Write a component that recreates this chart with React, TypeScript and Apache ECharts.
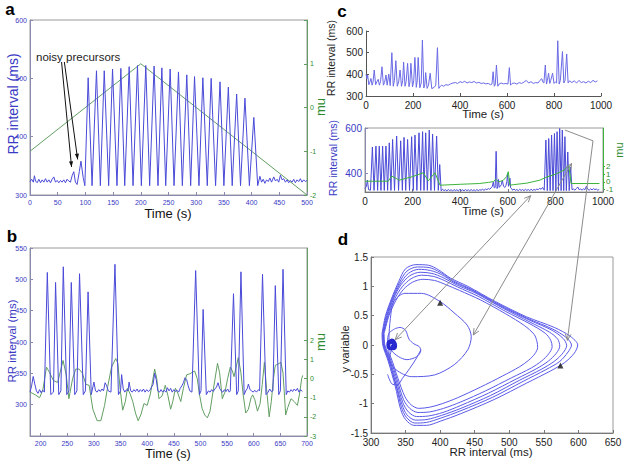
import React, { useEffect, useRef } from "react";
import * as echarts from "echarts";

const FONT = "Liberation Sans, Arial, sans-serif";
const BLUE = "#4a4ad8";
const BLUE_TXT = "#3a3ac4";
const GREEN = "#629e62";
const GREEN_C = "#3cb43c";
const GREEN_TXT = "#2e8a2e";
const GRAY = "#8c8c8c";

// ---------- Panel a ----------
const aRR: number[][] = [
  [0, 323], [3, 327], [6, 322], [8, 333], [10, 324], [13, 321], [16, 327], [19, 321], [22, 326], [25, 322],
  [28, 328], [31, 322], [34, 326], [37, 321], [40, 327], [43, 331], [46, 322], [49, 325], [52, 321], [55, 325],
  [58, 322], [61, 326], [64, 321], [67, 327], [70, 324], [73, 322], [76, 333], [79, 340], [82, 322], [85, 318],
  [89, 340], [92, 358], [96, 330], [99, 316],
  [105, 501], [112, 316], [120, 513], [127, 316], [134, 513], [142, 316], [149, 516], [157, 316], [164, 517],
  [171, 316], [179, 520], [186, 316], [194, 522], [201, 316], [209, 522], [216, 316], [224, 521], [231, 316],
  [238, 518], [245, 316], [253, 516], [260, 316], [268, 511], [275, 316], [283, 506], [290, 316], [297, 503],
  [305, 316], [312, 501], [320, 316], [327, 500], [335, 316], [343, 494], [350, 316], [358, 485], [365, 316],
  [373, 473], [380, 316], [388, 466], [396, 316], [404, 433], [411, 316],
  [415, 332], [418, 322], [421, 327], [424, 320], [427, 326], [430, 323], [433, 329], [436, 322], [440, 331],
  [443, 324], [446, 327], [449, 322], [452, 334], [455, 326], [458, 328], [461, 322], [464, 326], [467, 321],
  [470, 325], [473, 322], [476, 327], [479, 321], [482, 326], [485, 323], [488, 328], [491, 322], [494, 326],
  [497, 323], [500, 325],
];
const aMu: number[][] = [[0, -1], [200, 1], [500, -2]];

// ---------- Panel b ----------
const bRR: number[][] = [
  [180, 320], [183, 330], [186, 345], [189, 333], [192, 322], [195, 318], [198, 324], [201, 319], [204, 323],
  [207, 320], [212.5, 511], [219, 316], [224, 320], [228, 495], [234, 316], [238, 322], [242.5, 520], [249, 316],
  [253, 322], [257.5, 495], [264, 316], [268, 322], [273, 509], [280, 316], [284, 322], [289, 480], [295, 316],
  [300, 336], [303, 322], [306, 320], [309, 324], [312, 321], [315, 325], [318, 322], [321, 335], [324, 330],
  [327, 322], [332, 320], [339.5, 524], [346, 316], [350, 322], [352, 348], [355, 325], [358, 320], [361, 324],
  [364, 322], [366, 336], [369, 322], [372, 320], [375, 324], [378, 321], [381, 325], [384, 320], [387, 324],
  [390, 321], [393, 325], [396, 320], [399, 324], [402, 321], [405, 323], [408, 328], [411, 332], [414, 350],
  [417, 340], [420, 322], [423, 320], [426, 324], [429, 320], [432, 323], [435, 320], [438, 327], [441, 322],
  [444, 326], [447, 320], [450, 324], [453, 321], [456, 323], [459, 320], [462, 326], [465, 330], [468, 335],
  [471, 343], [474, 340], [477, 330], [480, 322], [484, 320], [491, 514], [498, 316], [501, 322], [505, 452],
  [511, 316], [515, 322], [518, 320], [521, 324], [524, 321], [527, 325], [530, 328], [533, 335], [536, 326],
  [539, 322], [542, 320], [545, 324], [548, 321], [551, 325], [554, 320], [556, 322], [562, 477], [568, 316],
  [571, 322], [576, 512], [582, 316], [585, 322], [588, 326], [590, 333], [593, 324], [596, 322], [599, 320],
  [602, 323], [605, 320], [609, 324], [611, 322], [616.5, 508], [623, 316], [627, 320], [630, 325], [633, 321],
  [636, 322], [640.5, 490], [647, 316], [650, 322], [655, 516], [661, 316], [664, 322], [667, 320], [670, 324],
  [673, 321], [676, 325], [679, 322], [682, 326], [685, 320], [688, 324], [691, 321],
];
const bMu: number[][] = [
  [180, -0.7], [190, -0.85], [198, -1.0], [204, -0.6], [211, 0.6], [217, 0.3], [224, -0.1], [232, -0.2],
  [242, 0.95], [248, 0.2], [253, -1.05], [260, 0.0], [266, 0.5], [272, 0.5], [278, 0.3], [285, -0.3],
  [291, -0.35], [298, -1.6], [306, -2.2], [313, -2.2], [320, -1.4], [326, -0.4], [333, 0.6], [341, 1.05],
  [345, 0.8], [349, -0.5], [354, -1.65], [359, -1.2], [363, -0.5], [368, -0.8], [373, -1.2], [378, -1.8],
  [383, -2.2], [388, -1.9], [394, -1.3], [400, -1.4], [406, -0.8], [414, 0.5], [418, 0.0], [422, -1.05],
  [428, -0.9], [434, -0.35], [439, -0.9], [444, -1.6], [448, -1.2], [453, -0.5], [458, -0.8], [463, -1.2],
  [468, -0.5], [474, 0.2], [480, 0.25], [489, 0.4], [494, 0.0], [498, -0.8], [503, -1.55], [508, -1.9],
  [513, -2.05], [518, -1.7], [524, -0.6], [532, 0.8], [536, 0.3], [541, -1.05], [546, -0.7], [551, 0.0],
  [556, 0.6], [560, 0.4], [563, 0.1], [567, 0.6], [571, 1.1], [576, 0.3], [580, -0.8], [585, -1.8],
  [590, -1.6], [595, -1.0], [598, -0.85], [602, -1.1], [607, -1.7], [612, -1.3], [616, -0.3], [620, 0.85],
  [624, -0.5], [629, -2.0], [633, -1.2], [637, 0.0], [640.5, 0.7], [645, 0.75], [651, 0.85], [655, 0.3],
  [660, -1.9], [664, -1.5], [670, -1.05], [676, -1.2], [682, -1.4], [686, -0.8], [690, 0.0], [692, 0.17],
];

// ---------- Panel c (top: data) ----------
const cTopRR: number[][] = [
  [0, 400], [4, 380], [7, 397], [12, 352], [16, 362], [21, 381], [26, 350], [30, 365], [35, 420], [41, 352],
  [46, 365], [52, 377], [57, 350], [62, 368], [68, 435], [74, 350], [79, 362], [85, 397], [90, 350], [97, 401],
  [103, 348], [110, 500], [116, 345], [121, 372], [127, 463], [133, 345], [139, 365], [145, 420], [151, 345],
  [156, 370], [160, 457], [166, 345], [171, 368], [177, 451], [183, 343], [187, 365], [191, 451], [198, 342],
  [203, 370], [208, 478], [214, 340], [218, 370], [222, 478], [229, 338], [235, 360], [240, 558], [246, 337],
  [250, 350], [254, 408], [260, 335], [266, 350], [273, 405], [280, 334], [290, 340], [297, 350], [304, 523],
  [310, 335], [316, 345], [322, 350], [330, 345], [340, 352], [350, 350], [360, 356], [370, 360], [380, 362],
  [390, 358], [400, 366], [410, 362], [420, 368], [430, 360], [440, 365], [450, 362], [460, 367], [470, 360],
  [480, 363], [490, 358], [500, 360], [510, 356], [520, 358], [530, 352], [536, 355], [541, 412], [546, 345],
  [550, 352], [555, 443], [561, 345], [566, 355], [575, 360], [585, 356], [595, 358], [604, 355], [610, 431],
  [615, 350], [622, 358], [632, 360], [642, 355], [652, 362], [662, 358], [672, 364], [682, 372], [692, 360],
  [702, 366], [712, 358], [722, 362], [732, 360], [740, 372], [748, 380], [752, 365], [757, 360], [763, 443],
  [768, 355], [772, 372], [777, 405], [782, 358], [786, 372], [794, 405], [800, 358], [806, 365], [811, 360],
  [816, 555], [822, 355], [827, 372], [836, 505], [842, 360], [847, 372], [854, 494], [860, 360], [866, 370],
  [876, 362], [886, 370], [896, 360], [906, 372], [916, 362], [926, 366], [936, 360], [946, 368], [956, 362],
  [966, 372], [976, 365], [985, 370],
];

// ---------- Panel c (bottom: model) ----------
const cBotRR: number[][] = [
  [0, 335], [6, 345], [10, 372], [15, 330], [23, 328], [31, 517], [38, 327], [46, 521], [53, 327], [60, 521],
  [67, 327], [74, 521], [81, 327], [88, 521], [95, 327], [102, 535], [109, 327], [116, 550], [124, 327],
  [133, 565], [141, 327], [150, 544], [157, 327], [164, 559], [171, 327], [179, 550], [187, 327], [196, 562],
  [203, 327], [210, 569], [218, 327], [227, 579], [234, 327], [242, 584], [248, 327], [255, 579], [262, 327],
  [270, 591], [277, 327], [284, 573], [292, 327], [301, 565], [308, 327], [314, 440], [320, 325], [326, 332],
  [332, 326], [338, 330], [344, 325], [350, 331], [356, 326], [362, 330], [368, 324], [374, 331], [380, 326],
  [386, 330], [392, 325], [398, 331], [404, 326], [410, 330], [416, 325], [422, 331], [428, 326], [434, 330],
  [440, 325], [446, 331], [452, 326], [458, 330], [464, 325], [470, 331], [476, 326], [482, 330], [488, 328],
  [494, 332], [500, 327], [506, 333], [512, 330], [518, 335], [524, 332], [530, 338], [535, 345], [539, 363],
  [543, 338], [547, 340], [551, 498], [555, 335], [558, 345], [561, 375], [564, 340], [568, 345], [573, 352],
  [577, 372], [582, 345], [587, 340], [592, 348], [596, 365], [599, 400], [603, 345], [606, 355], [609, 380],
  [612, 338], [616, 335], [620, 328], [626, 333], [632, 327], [638, 331], [644, 326], [650, 332], [656, 327],
  [662, 331], [668, 326], [674, 332], [680, 327], [686, 331], [692, 326], [698, 332], [704, 327], [710, 331],
  [716, 328], [722, 333], [728, 330], [734, 336], [740, 332], [746, 340], [753, 328], [760, 547], [766, 326],
  [772, 554], [778, 326], [784, 569], [790, 326], [796, 576], [802, 326], [807, 584], [813, 326], [818, 598],
  [824, 326], [829, 591], [835, 326], [840, 562], [846, 326], [852, 495], [858, 326], [864, 429], [870, 330],
  [876, 333], [882, 328], [888, 335], [894, 342], [900, 330], [906, 333], [912, 328], [918, 334], [924, 330],
  [930, 345], [936, 332], [942, 328], [948, 334], [954, 329], [960, 335], [966, 330], [972, 333], [978, 328],
  [984, 331],
];
const cBotMu: number[][] = [
  [0, 0.1], [98, 0.1], [112, 0.77], [144, 0.24], [200, 0.7], [245, 1.2], [266, 0.15], [294, 1.2], [315, -0.42],
  [400, -0.3], [480, -0.2], [520, -0.05], [539, 0.05], [551, 0.35], [561, 0.0], [580, 0.2], [595, 0.7],
  [602, 1.33], [609, -0.42], [623, -0.35], [680, -0.15], [735, 0.24], [760, 0.6], [800, 1.0], [840, 1.6],
  [856, 2.2], [866, -0.2], [985, -0.2],
];

// ---------- Panel d (phase plane) ----------
const dLoop1: number[][] = [
  [316, 0.2], [321, 0.5], [330, 0.8], [340, 1.08], [350, 1.3], [365, 1.37], [383, 1.36], [398, 1.28], [415, 1.14],
  [440, 1.0], [480, 0.74], [525, 0.48], [565, 0.3], [588, 0.15], [599, 0], [594, -0.14], [580, -0.3], [560, -0.44],
  [525, -0.65], [478, -0.93], [430, -1.17], [400, -1.3], [380, -1.37], [362, -1.37], [350, -1.27], [343, -1.1],
  [335, -0.7], [325, -0.28], [317, 0.0], [316, 0.2],
];
const dLoop2: number[][] = [
  [317, 0.2], [322, 0.5], [331, 0.8], [341, 1.06], [352, 1.26], [367, 1.33], [384, 1.32], [400, 1.24], [418, 1.1],
  [445, 0.95], [484, 0.7], [527, 0.45], [563, 0.27], [582, 0.13], [590, 0], [585, -0.12], [573, -0.28],
  [553, -0.42], [520, -0.62], [476, -0.89], [430, -1.12], [400, -1.25], [380, -1.32], [363, -1.33], [351, -1.23],
  [344, -1.06], [336, -0.68], [326, -0.27], [318, 0.0], [317, 0.2],
];
const dLoop3: number[][] = [
  [317, 0.2], [323, 0.5], [332, 0.8], [342, 1.04], [354, 1.22], [369, 1.29], [386, 1.27], [402, 1.2], [420, 1.07],
  [448, 0.92], [488, 0.66], [530, 0.42], [562, 0.25], [578, 0.11], [583, -0.01], [578, -0.13], [566, -0.27],
  [547, -0.41], [515, -0.6], [473, -0.86], [430, -1.08], [402, -1.2], [381, -1.27], [364, -1.28], [352, -1.19],
  [345, -1.02], [336, -0.66], [326, -0.26], [318, 0], [317, 0.2],
];
const dLoop4: number[][] = [
  [318, 0.2], [324, 0.5], [333, 0.8], [343, 1.02], [356, 1.18], [371, 1.24], [388, 1.22], [404, 1.15], [423, 1.03],
  [452, 0.88], [492, 0.62], [530, 0.39], [558, 0.22], [570, 0.1], [573, -0.02], [568, -0.14], [557, -0.27],
  [540, -0.4], [510, -0.58], [470, -0.82], [430, -1.03], [404, -1.15], [383, -1.21], [366, -1.22], [354, -1.14],
  [346, -0.98], [337, -0.63], [327, -0.25], [319, 0], [318, 0.2],
];
const dLoop5: number[][] = [
  [318, 0.2], [325, 0.5], [334, 0.78], [345, 0.99], [358, 1.13], [373, 1.19], [390, 1.17], [406, 1.1], [425, 0.99],
  [455, 0.83], [495, 0.57], [530, 0.36], [552, 0.2], [560, 0.08], [562, -0.03], [557, -0.15], [547, -0.27],
  [532, -0.39], [503, -0.56], [466, -0.78], [430, -0.97], [405, -1.08], [385, -1.14], [368, -1.15], [356, -1.08],
  [347, -0.93], [338, -0.6], [328, -0.24], [319, 0], [318, 0.2],
];
const dLoop6: number[][] = [
  [319, 0.2], [326, 0.5], [336, 0.76], [347, 0.95], [360, 1.07], [375, 1.12], [392, 1.1], [408, 1.03], [428, 0.93],
  [458, 0.77], [495, 0.53], [522, 0.33], [536, 0.18], [540, 0.06], [541, -0.04], [537, -0.15], [528, -0.26],
  [515, -0.37], [490, -0.53], [458, -0.72], [425, -0.9], [403, -1.0], [385, -1.06], [369, -1.08], [358, -1.02],
  [349, -0.88], [339, -0.57], [329, -0.22], [320, 0], [319, 0.2],
];
const dMidLoop: number[][] = [
  [326, -0.3], [326, 0.1], [328, 0.45], [333, 0.74], [349, 0.88], [373, 0.88], [400, 0.74], [420, 0.55],
  [439, 0.34], [445, 0.14], [440, -0.08], [421, -0.33], [392, -0.51], [359, -0.54], [336, -0.42], [327, -0.25],
  [330, -0.05],
];
const dSmallLoop: number[][] = [
  [335, 0.28], [342, 0.3], [350, 0.25], [355, 0.1], [362, 0.02], [370, -0.03], [372, -0.1], [366, -0.2],
  [352, -0.25], [340, -0.2], [330, -0.1], [324, 0.05], [326, 0.2], [335, 0.28],
];
const dTransit: number[][] = [
  [372, -0.08], [366, -0.22], [356, -0.4], [346, -0.56], [338, -0.68], [330, -0.66], [324, -0.5],
];
const dBlob: number[][] = [
  [326, 0.05], [330, 0.09], [334, 0.06], [336, -0.01], [332, -0.07], [326, -0.06], [324, 0.01], [328, 0.07],
  [333, 0.04], [334, -0.03], [329, -0.05], [326, 0.0], [330, 0.04], [332, 0.0], [329, -0.02],
];
const dArrows: number[][] = [[400, 0.72], [574, -0.35]];
const dLoops = [dLoop1, dLoop2, dLoop3, dLoop4, dLoop5, dLoop6, dMidLoop, dSmallLoop, dTransit];

// tick label lists
const bXTicks = [200, 250, 300, 350, 400, 450, 500, 550, 600, 650, 700];
const bMuTicks = [-3, -2, -1, 0, 1, 2];
const cBotYTicks = [400, 600];
const cBotMuTicks = [-1, 0, 1, 2];

const plain = (v: number) => String(v);

function ax(color: string, labelColor: string, fontSize: number, extra: any = {}) {
  return {
    type: "value",
    axisLine: { show: true, onZero: false, lineStyle: { color, width: 1 } },
    axisTick: { show: true, inside: true, length: 3, lineStyle: { color } },
    axisLabel: {
      color: labelColor, fontSize, fontFamily: FONT, margin: 3,
      showMinLabel: true, showMaxLabel: true, formatter: plain,
    },
    splitLine: { show: false },
    ...extra,
  };
}

function head(tip: number[], from: number[], len = 7, spread = 0.42) {
  const a = Math.atan2(from[1] - tip[1], from[0] - tip[0]);
  return [
    [tip[0] + len * Math.cos(a + spread), tip[1] + len * Math.sin(a + spread)],
    [tip[0], tip[1]],
    [tip[0] + len * Math.cos(a - spread), tip[1] + len * Math.sin(a - spread)],
  ];
}

export default function App() {
  const ref = useRef<HTMLDivElement>(null);
  useEffect(() => {
    if (!ref.current) return;
    const chart = echarts.init(ref.current, null, { renderer: "svg" });
    const gridBox = { show: true, borderColor: "#9a9a9a", borderWidth: 1, backgroundColor: "transparent", outerBoundsMode: "none" };
    const lineS = (x: number, y: number, data: number[][], color: string, width = 1, z = 2) => ({
      type: "line", xAxisIndex: x, yAxisIndex: y, data, showSymbol: false, symbol: "none",
      lineStyle: { color, width }, itemStyle: { color }, z, silent: true,
    });
    const xl = (fs: number, color: string) => ({ color, fontSize: fs, fontFamily: FONT, margin: 4, showMinLabel: true, showMaxLabel: true, formatter: plain });

    const option: any = {
      animation: false,
      textStyle: { fontFamily: FONT },
      grid: [
        { left: 30, top: 20, width: 277, height: 175, ...gridBox },
        { left: 30, top: 248, width: 277, height: 188, ...gridBox },
        { left: 366, top: 31, width: 235, height: 65, show: false, outerBoundsMode: "none" },
        { left: 365, top: 128, width: 238, height: 64, ...gridBox },
        { left: 371, top: 257, width: 242, height: 176, ...gridBox },
      ],
      xAxis: [
        { ...ax("#8a8ab0", BLUE_TXT, 7), gridIndex: 0, min: 0, max: 500, interval: 50, axisLabel: xl(7, BLUE_TXT) },
        {
          ...ax("#8a8ab0", BLUE_TXT, 7), gridIndex: 1, min: 180, max: 700,
          axisLabel: { ...xl(7, BLUE_TXT), customValues: bXTicks },
          axisTick: { show: true, inside: true, length: 3, lineStyle: { color: "#8a8ab0" }, customValues: bXTicks },
        },
        { ...ax("#555", "#222", 10), gridIndex: 2, min: 0, max: 1000, interval: 200, axisLabel: xl(10, "#222") },
        { ...ax("#777", "#222", 10), gridIndex: 3, min: 0, max: 1000, interval: 200, axisLabel: xl(10, "#222") },
        { ...ax("#777", "#222", 10), gridIndex: 4, min: 300, max: 650, interval: 50, axisLabel: xl(10, "#222") },
      ],
      yAxis: [
        { ...ax("#8a8ab0", BLUE_TXT, 7), gridIndex: 0, min: 300, max: 600, interval: 100 },
        {
          ...ax(GREEN, GREEN_TXT, 7), gridIndex: 0, position: "right", min: -2, max: 2, interval: 1,
          axisLabel: { color: GREEN_TXT, fontSize: 7, fontFamily: FONT, margin: 3, formatter: (v: number) => (v === 2 ? "" : String(v)) },
        },
        {
          ...ax("#8a8ab0", BLUE_TXT, 7), gridIndex: 1, min: 250, max: 550, interval: 50,
          axisLabel: { color: BLUE_TXT, fontSize: 7, fontFamily: FONT, margin: 3, showMaxLabel: true, formatter: (v: number) => (v === 250 ? "" : String(v)) },
        },
        {
          ...ax(GREEN, GREEN_TXT, 7), gridIndex: 1, position: "right", min: -3, max: 6.83,
          axisLabel: { color: GREEN_TXT, fontSize: 7, fontFamily: FONT, margin: 3, customValues: bMuTicks, formatter: plain },
          axisTick: { show: true, inside: true, length: 3, lineStyle: { color: GREEN }, customValues: bMuTicks },
        },
        { ...ax("#555", "#222", 10), gridIndex: 2, min: 300, max: 600, interval: 100 },
        {
          ...ax("#8a8ab0", BLUE_TXT, 10), gridIndex: 3, min: 320, max: 600,
          axisLabel: { color: BLUE_TXT, fontSize: 10, fontFamily: FONT, margin: 3, customValues: cBotYTicks, formatter: plain },
          axisTick: { show: true, inside: true, length: 3, lineStyle: { color: "#8a8ab0" }, customValues: cBotYTicks },
        },
        {
          ...ax(GREEN_C, GREEN_TXT, 8), gridIndex: 3, position: "right", min: -1.3, max: 7,
          axisLabel: { show: false },
          axisTick: { show: true, inside: false, length: 2, lineStyle: { color: GREEN_C }, customValues: cBotMuTicks },
        },
        { ...ax("#777", "#222", 10), gridIndex: 4, min: -1.5, max: 1.5, interval: 0.5 },
      ],
      series: [
        lineS(0, 1, aMu, GREEN, 1, 1),
        lineS(0, 0, aRR, BLUE, 1, 2),
        lineS(1, 3, bMu, GREEN, 1, 1),
        lineS(1, 2, bRR, BLUE, 1, 2),
        lineS(2, 4, cTopRR, "#6a6ae6", 1, 2),
        lineS(3, 5, cBotRR, BLUE, 1, 2),
        lineS(3, 6, cBotMu, GREEN_C, 1, 3),
        ...dLoops.map((l) => ({ ...lineS(4, 7, l, "#5a5ae8", 1, 2), smooth: 0.3 })),
        { ...lineS(4, 7, dBlob, "#2828d0", 2.5, 3), smooth: 0.5 },
        {
          type: "scatter", xAxisIndex: 4, yAxisIndex: 7, data: dArrows, symbol: "triangle", symbolSize: 6,
          itemStyle: { color: "#111" }, z: 5, silent: true,
        },
      ],
    };
    chart.setOption(option);

    const toC = (p: number[]) => chart.convertToPixel({ xAxisIndex: 3, yAxisIndex: 5 } as any, p) as number[];
    const toCMu = (p: number[]) => chart.convertToPixel({ xAxisIndex: 3, yAxisIndex: 6 } as any, p) as number[];
    const toD = (p: number[]) => chart.convertToPixel({ xAxisIndex: 4, yAxisIndex: 7 } as any, p) as number[];
    const toA = (p: number[]) => chart.convertToPixel({ xAxisIndex: 0, yAxisIndex: 0 } as any, p) as number[];

    const g: any[] = [];
    const txt = (x: number, y: number, text: string, size: number, color: string, rot = 0, weight = "normal", align = "center") =>
      g.push({
        type: "text", x, y, rotation: rot, z: 20,
        style: { text, fontSize: size, fill: color, fontFamily: FONT, fontWeight: weight, align, verticalAlign: "middle" },
      });
    const V = Math.PI / 2;
    // panel letters
    txt(10, 9, "a", 17, "#000", 0, "bold");
    txt(12, 236, "b", 17, "#000", 0, "bold");
    txt(342, 11, "c", 17, "#000", 0, "bold");
    txt(343, 239, "d", 17, "#000", 0, "bold");
    // panel a
    txt(13, 104, "RR interval (ms)", 14, BLUE_TXT, V);
    txt(320, 107, "mu", 13, GREEN_TXT, V);
    txt(168, 213, "Time (s)", 13, "#111");
    txt(36, 57, "noisy precursors", 11.5, "#222", 0, "normal", "left");
    // panel b
    txt(12, 341, "RR interval (ms)", 11.5, BLUE_TXT, V);
    txt(320, 342, "mu", 13, GREEN_TXT, V);
    txt(168, 454, "Time (s)", 12.5, "#111");
    // panel c
    txt(331, 58, "RR interval (ms)", 10.5, "#222", V);
    txt(483, 114, "Time (s)", 11.5, "#222");
    txt(333, 158, "RR interval (ms)", 10.5, BLUE_TXT, V);
    txt(619, 150, "mu", 11, GREEN_TXT, V);
    txt(483, 211, "Time (s)", 11.5, "#222");
    // right-hand mu tick labels of panel c (bottom), crowded as in the original
    cBotMuTicks.forEach((v) => {
      const p = toCMu([1000, v]);
      txt(p[0] + 3, p[1], String(v), 8, GREEN_TXT, 0, "normal", "left");
    });
    // panel d
    txt(345, 349, "y variable", 11, "#222", V);
    txt(491, 452, "RR interval (ms)", 11.5, "#222");

    // noisy precursor arrows (filled heads)
    const arrA = [
      { from: [57, 528], to: [75, 348] },
      { from: [62, 528], to: [86, 361] },
    ];
    arrA.forEach((a) => {
      const f = toA(a.from), t = toA(a.to);
      g.push({ type: "line", z: 15, shape: { x1: f[0], y1: f[1], x2: t[0], y2: t[1] }, style: { stroke: "#111", lineWidth: 1 } });
      g.push({ type: "polygon", z: 15, shape: { points: head(t, f, 6, 0.35) }, style: { fill: "#111" } });
    });

    // gray annotation arrows from panel c to panel d
    const p1a = toC([840, 591]), p1b = toC([958, 544]), p1c = toD([584, 0.08]);
    g.push({ type: "polyline", z: 15, shape: { points: [p1a, p1b, p1c] }, style: { stroke: GRAY, lineWidth: 1, fill: "none" } });
    g.push({ type: "polyline", z: 15, shape: { points: head(p1c, p1b) }, style: { stroke: GRAY, lineWidth: 1, fill: "none" } });
    const pairs = [
      [toC([868, 445]), toD([448, 0.17])],
      [toC([696, 304]), toD([335, 0.09])],
    ];
    pairs.forEach(([a, b]) => {
      g.push({ type: "line", z: 15, shape: { x1: a[0], y1: a[1], x2: b[0], y2: b[1] }, style: { stroke: GRAY, lineWidth: 1 } });
      g.push({ type: "polyline", z: 15, shape: { points: head(a, b) }, style: { stroke: GRAY, lineWidth: 1, fill: "none" } });
      g.push({ type: "polyline", z: 15, shape: { points: head(b, a) }, style: { stroke: GRAY, lineWidth: 1, fill: "none" } });
    });

    chart.setOption({ graphic: g });
    return () => chart.dispose();
  }, []);
  return <div ref={ref} style={{ position: "fixed", left: 0, top: 0, width: 624, height: 466, background: "#fff" }} />;
}
